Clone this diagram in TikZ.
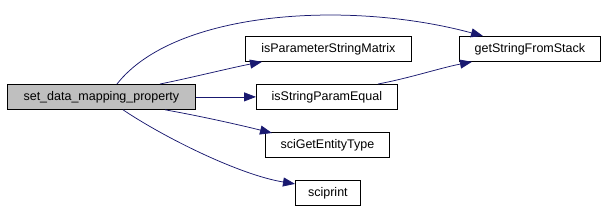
\documentclass[tikz,border=0pt]{standalone}
\usepackage{fontspec}
\setmainfont{Liberation Sans}
\usetikzlibrary{arrows.meta,calc}
\definecolor{edgeblue}{HTML}{191970}
\definecolor{mainfill}{HTML}{BFBFBF}
\tikzset{
  fn/.style={draw=black, line width=0.8pt, fill=white, inner sep=0pt, anchor=north west,
    font=\fontsize{12.5}{14}\selectfont, align=center},
  call/.style={draw=edgeblue, line width=0.75pt, -{Triangle[length=12pt,width=9pt]}, color=edgeblue},
}
\begin{document}
\begin{tikzpicture}[x=1pt,y=-1pt]
\useasboundingbox (0,0) rectangle (605,209);
\node[fn, fill=mainfill, minimum width=188pt, minimum height=25pt] (m) at (7,84) {set\_data\_mapping\_property};
\node[fn, minimum width=166pt, minimum height=25pt] (ipsm) at (245,36) {isParameterStringMatrix};
\node[fn, minimum width=141pt, minimum height=25pt] (ispe) at (256,84) {isStringParamEqual};
\node[fn, minimum width=124pt, minimum height=25pt] (sget) at (265,132) {sciGetEntityType};
\node[fn, minimum width=65pt, minimum height=25pt] (sp) at (295,180) {sciprint};
\node[fn, minimum width=141pt, minimum height=25pt] (gsfs) at (459,36) {getStringFromStack};
\draw[call] ($(m.north west)+(110,0)$) .. controls (175,10) and (350,0) .. ($(gsfs.north west)+(24,0)$);
\draw[call] ($(m.north west)+(153,0)$) .. controls (190,78) and (230,68) .. ($(ipsm.south west)+(17,0)$);
\draw[call] (m.east) -- (ispe.west);
\draw[call] ($(m.south west)+(158,0)$) .. controls (200,116) and (240,125) .. ($(sget.north west)+(7,1)$);
\draw[call] ($(m.south west)+(116,0)$) .. controls (165,138) and (240,175) .. ($(sp.west)+(0,-9)$);
\draw[call] ($(ispe.north west)+(122,0)$) .. controls (410,78) and (440,68) .. ($(gsfs.south west)+(13,0)$);
\end{tikzpicture}
\end{document}
